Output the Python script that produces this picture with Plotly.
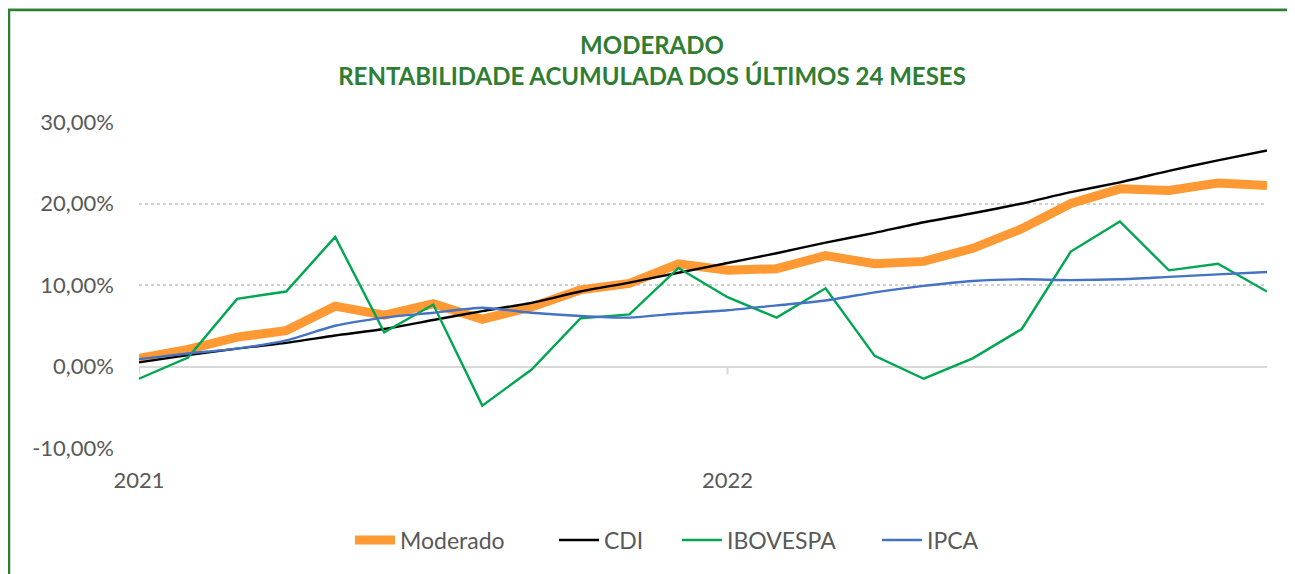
"""Moderado portfolio: cumulative return over the last 24 months vs benchmarks."""

import plotly.graph_objects as go

MONTHS = [
    "jan/21", "fev/21", "mar/21", "abr/21", "mai/21", "jun/21",
    "jul/21", "ago/21", "set/21", "out/21", "nov/21", "dez/21",
    "jan/22", "fev/22", "mar/22", "abr/22", "mai/22", "jun/22",
    "jul/22", "ago/22", "set/22", "out/22", "nov/22", "dez/22",
]

MODERADO = [1.0, 2.1, 3.6, 4.4, 7.4, 6.3, 7.7, 5.8, 7.3, 9.4, 10.2, 12.6,
            11.8, 12.0, 13.6, 12.6, 12.9, 14.5, 16.9, 20.0, 21.8, 21.6, 22.5, 22.2]
CDI = [0.5, 1.4, 2.2, 2.9, 3.8, 4.6, 5.7, 6.8, 7.8, 9.2, 10.3, 11.5,
       12.7, 13.9, 15.2, 16.4, 17.7, 18.8, 20.0, 21.4, 22.6, 24.0, 25.3, 26.5]
IBOVESPA = [-1.5, 1.1, 8.3, 9.2, 15.9, 4.2, 7.6, -4.8, -0.4, 5.9, 6.4, 12.1,
            8.5, 6.0, 9.6, 1.3, -1.5, 1.0, 4.6, 14.1, 17.8, 11.8, 12.6, 9.2]
IPCA = [0.9, 1.6, 2.2, 3.2, 5.0, 6.0, 6.6, 7.2, 6.6, 6.2, 6.0, 6.5,
        6.9, 7.5, 8.1, 9.1, 9.9, 10.5, 10.7, 10.6, 10.7, 11.0, 11.3, 11.6]

Y_TICKS = [-10, 0, 10, 20, 30]
Y_TICK_LABELS = ["-10,00%", "0,00%", "10,00%", "20,00%", "30,00%"]
X_TICKS = ["jan/21", "jan/22"]
X_TICK_LABELS = ["2021", "2022"]

GREEN_DARK = "#2E7D32"
TEXT_GRAY = "#595959"
GRID = "#d0d0d0"
FONT = "Lato, Calibri, sans-serif"

# the page body adds an 8px offset, so the figure is 8px smaller than the window
W, H = 1287, 566
ML, MR, MT, MB = 131, 28, 114, 126
PW, PH = W - ML - MR, H - MT - MB

# name, values, colour, width, shape, legend id, legend left edge (px)
SERIES = [
    ("Moderado", MODERADO, "#FF9933", 9, "linear", "legend", 342),
    ("CDI", CDI, "#000000", 2.4, "spline", "legend2", 546),
    ("IBOVESPA", IBOVESPA, "#00A650", 2.4, "linear", "legend3", 669),
    ("IPCA", IPCA, "#4472C4", 2.4, "spline", "legend4", 869),
]

fig = go.Figure()
legends = {}
for name, values, color, width, shape, leg, leg_x in SERIES:
    fig.add_trace(
        go.Scatter(
            x=MONTHS,
            y=values,
            mode="lines",
            name=name,
            legend=leg,
            line={"color": color, "width": width, "shape": shape, "smoothing": 0.6},
            hovertemplate="%{x}: %{y:.2f}%<extra>" + name + "</extra>",
        )
    )
    legends[leg] = {
        "orientation": "h",
        "x": leg_x / W,
        "xref": "container",
        "xanchor": "left",
        "y": 1 - 532 / H,
        "yref": "container",
        "yanchor": "middle",
        "bgcolor": "rgba(0,0,0,0)",
        "font": {"family": FONT, "color": TEXT_GRAY, "size": 23},
        "itemwidth": 40,
    }

fig.update_layout(
    width=W,
    height=H,
    paper_bgcolor="#ffffff",
    plot_bgcolor="#ffffff",
    font={"family": FONT, "color": TEXT_GRAY, "size": 21},
    title={
        "text": "<b>MODERADO<br>RENTABILIDADE ACUMULADA DOS ÚLTIMOS 24 MESES</b>",
        "x": 644 / W,
        "xref": "container",
        "xanchor": "center",
        "y": 1 - 46 / H,
        "yanchor": "middle",
        "font": {"family": FONT, "color": GREEN_DARK, "size": 24},
    },
    margin={"l": ML, "r": MR, "t": MT, "b": MB},
    showlegend=True,
    **legends,
)

fig.update_xaxes(
    type="category",
    range=[0, len(MONTHS) - 1],
    tickvals=X_TICKS,
    ticktext=X_TICK_LABELS,
    showgrid=False,
    showline=False,
    zeroline=False,
    ticks="",
    ticklabelstandoff=17,
    tickfont={"family": FONT, "color": TEXT_GRAY, "size": 22},
)
fig.update_yaxes(
    range=[-10, 30],
    tickvals=Y_TICKS,
    ticktext=Y_TICK_LABELS,
    showgrid=True,
    gridcolor=GRID,
    griddash="dot",
    gridwidth=1.5,
    zeroline=True,
    zerolinecolor="#d9d9d9",
    zerolinewidth=2,
    showline=False,
    ticks="",
    ticklabelstandoff=24,
    tickfont={"family": FONT, "color": TEXT_GRAY, "size": 22},
)

# small tick marks under the zero line at each year start
for xv in X_TICKS:
    fig.add_shape(
        type="line", xref="x", yref="y", x0=xv, x1=xv,
        ysizemode="pixel", yanchor=0, y0=0, y1=-8,
        line={"color": "#d9d9d9", "width": 2}, layer="below",
    )

# green chart frame (top and left edges visible) with a soft glow;
# frame corner sits at page (9, 10), top edge runs to the window edge
fx = (9 - 8 - ML) / PW
fy = 1 + (MT - (10 - 8)) / PH
fx_end = (W - ML) / PW
fy_end = -MB / PH
for grow, alpha, w in [(5, 0.10, 9), (3, 0.18, 6), (0, 1.0, 2.5)]:
    gx = fx - grow / PW
    gy = fy + grow / PH
    line = {"color": f"rgba(46,125,50,{alpha})", "width": w}
    fig.add_shape(type="path", xref="paper", yref="paper",
                  path=f"M {gx},{fy_end} L {gx},{gy} L {fx_end},{gy}",
                  line=line, layer="below")

fig.write_html("out.html")
